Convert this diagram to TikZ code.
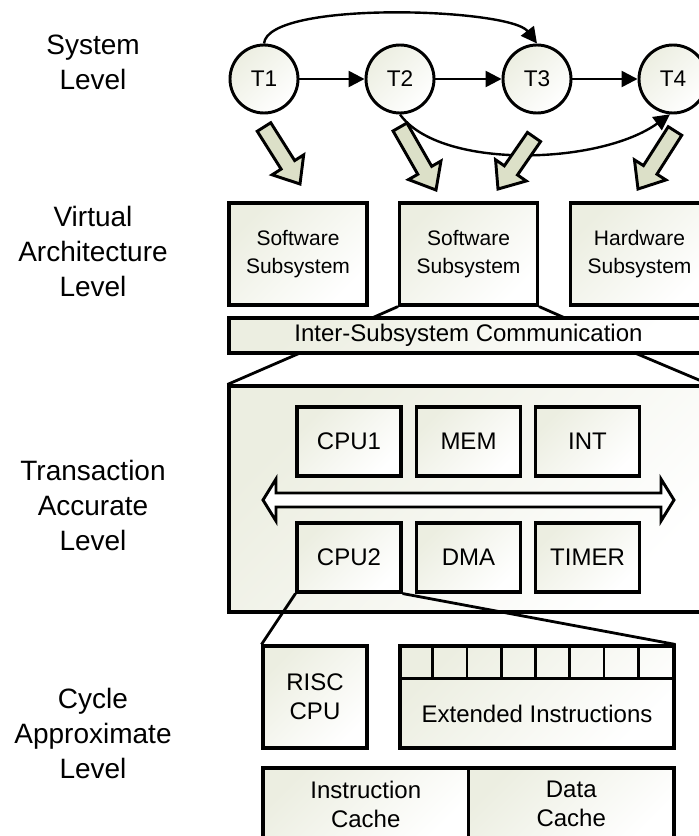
\documentclass[tikz,border=0pt]{standalone}
\usepackage{fontspec}
\setmainfont{Liberation Sans}
\usetikzlibrary{calc,arrows.meta}
\definecolor{boxg}{RGB}{236,238,225}
\definecolor{arrg}{RGB}{220,224,200}
\tikzset{
  lbl/.style={align=center,font=\fontsize{21}{26.25}\selectfont},
  blk/.style={draw=black,line width=2.3pt,left color=boxg,right color=white,shading angle=45,
    inner sep=0pt,align=center,font=\fontsize{18}{21.75}\selectfont},
  subtxt/.style={font=\fontsize{15.75}{21}\selectfont},
  task/.style={circle,draw=black,line width=2.2pt,minimum size=51pt,inner sep=0pt,
    left color=boxg,right color=white,shading angle=45,font=\fontsize{17}{20}\selectfont},
  flow/.style={line width=1.8pt,-{Triangle[length=12pt,width=12pt]}},
  zoomln/.style={line width=2.1pt},
  bigarr/.style={draw=black,line width=2.2pt,fill=arrg,line join=miter},
  bus/.style={draw=black,line width=2.2pt,fill=white,line join=miter},
}
\newcommand\blkarr[2]{%
  \coordinate (bA) at #1;
  \coordinate (bB) at #2;
  \coordinate (bH) at ($(bB)!17pt!(bA)$);
  \draw[bigarr] ($(bA)!6pt!90:(bB)$) -- ($(bH)!6pt!90:(bB)$) -- ($(bH)!14pt!90:(bB)$)
    -- (bB) -- ($(bH)!14pt!-90:(bB)$) -- ($(bH)!6pt!-90:(bB)$) -- ($(bA)!6pt!-90:(bB)$) -- cycle;
}
\begin{document}
\begin{tikzpicture}[x=0.75pt,y=-0.75pt]
\useasboundingbox (0,0) rectangle (699,836);
\clip (0,0) rectangle (699,836);

% level labels
\node[lbl] (lsys) at (93,62) {System\\Level};
\node[lbl] (lva) at (93,251) {Virtual\\Architecture\\Level};
\node[lbl] (lta) at (93,505) {Transaction\\Accurate\\Level};
\node[lbl] (lca) at (93,733) {Cycle\\Approximate\\Level};

% system level
\node[task] (T1) at (264,79) {T1};
\node[task] (T2) at (400,79) {T2};
\node[task] (T3) at (537,79) {T3};
\node[task] (T4) at (673,79) {T4};
\draw[flow] (T1) -- (T2);
\draw[flow] (T2) -- (T3);
\draw[flow] (T3) -- (T4);
\draw[flow] (T1.north) .. controls (268,0) and (510,8) .. (T3.north);
\draw[flow] (T2.south) .. controls (440,170) and (600,165) .. (T4.265);

% mapping arrows
\blkarr{(264,127)}{(300,184)}
\blkarr{(400,127)}{(436,190)}
\blkarr{(534,137)}{(498,189)}
\blkarr{(675,131)}{(638,189)}

% virtual architecture level
\node[blk,subtxt,minimum width=103.5pt,minimum height=76.5pt] (ss1) at (298,254) {Software\\Subsystem};
\node[blk,subtxt,minimum width=103.5pt,minimum height=76.5pt] (ss2) at (468.5,254) {Software\\Subsystem};
\node[blk,subtxt,minimum width=103.5pt,minimum height=76.5pt] (hs) at (639.5,254) {Hardware\\Subsystem};
\node[blk,minimum width=359.25pt,minimum height=26.25pt] (isc) at (468.5,335.5) {Inter-Subsystem Communication};
\coordinate (z1) at (372,318);
\coordinate (z2) at (565,318);
\draw[zoomln] (ss2.south west) -- (z1);
\draw[zoomln] (ss2.south east) -- (z2);

% transaction accurate level
\node[blk,minimum width=359.25pt,minimum height=169.5pt] (ta) at (468.5,499) {};
\coordinate (z3) at (300,353);
\coordinate (z4) at (635,353);
\draw[zoomln] (z3) -- (ta.north west);
\draw[zoomln] (z4) -- (ta.north east);
\node[blk,minimum width=78pt,minimum height=51.75pt] (cpu1) at (349,441.5) {CPU1};
\node[blk,minimum width=78pt,minimum height=51.75pt] (mem) at (468.5,441.5) {MEM};
\node[blk,minimum width=78pt,minimum height=51.75pt] (int) at (587.5,441.5) {INT};
\node[blk,minimum width=78pt,minimum height=51.75pt] (cpu2) at (349,557.5) {CPU2};
\node[blk,minimum width=78pt,minimum height=51.75pt] (dma) at (468.5,557.5) {DMA};
\node[blk,minimum width=78pt,minimum height=51.75pt] (tim) at (587.5,557.5) {TIMER};
\draw[bus] (263,500) -- (276,479) -- (276,493) -- (661,493) -- (661,479) -- (674,500)
  -- (661,521) -- (661,507) -- (276,507) -- (276,521) -- cycle;

% cycle approximate level
\node[blk,minimum width=78pt,minimum height=76.5pt] (risc) at (315,697) {RISC\\CPU};
\node[blk,minimum width=205.5pt,minimum height=76.5pt] (ext) at (537,697) {};
\node[font=\fontsize{18}{21.75}\selectfont] (exttxt) at (537,714) {Extended Instructions};
\draw[zoomln] ($(ext.north west)+(0,34)$) -- ($(ext.north east)+(0,34)$);
\foreach \i in {1,...,7} \draw[zoomln] ($(ext.north west)+(\i*34.25,0)$) -- ++(0,34);
\draw[zoomln] (cpu2.south west) -- (risc.north west);
\draw[zoomln] (cpu2.south east) -- (ext.north east);
\node[blk,minimum width=154.125pt,minimum height=54pt] (ic) at (365.75,804) {Instruction\\Cache};
\node[blk,minimum width=154.125pt,minimum height=54pt] (dc) at (571.25,804) {Data\\Cache};
\end{tikzpicture}
\end{document}
